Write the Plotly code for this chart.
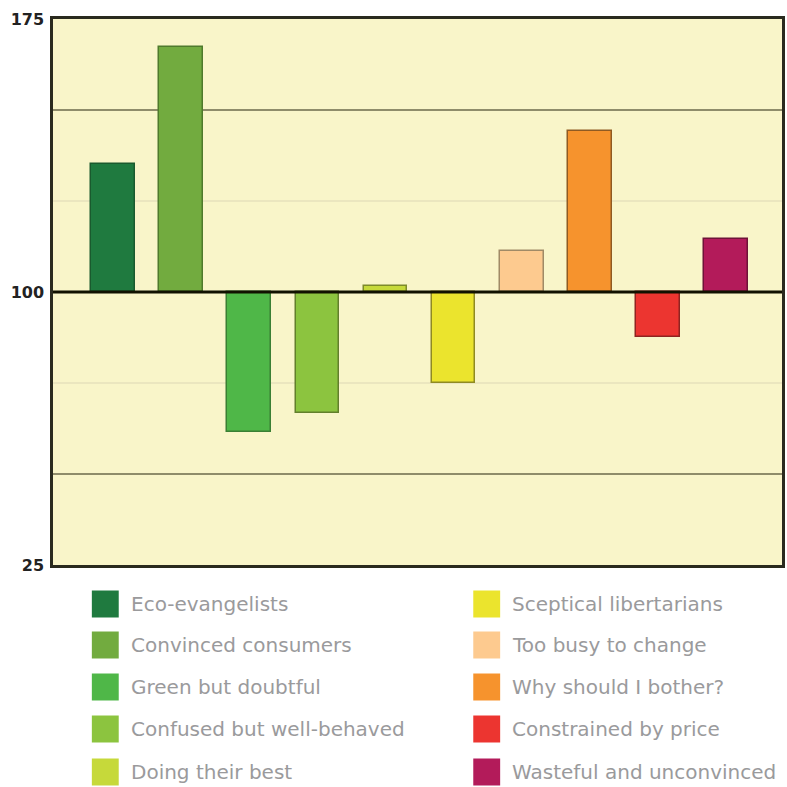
import plotly.graph_objects as go

segments = ["Eco-evangelists", "Convinced consumers", "Green but doubtful",
            "Confused but well-behaved", "Doing their best", "Sceptical libertarians",
            "Too busy to change", "Why should I bother?", "Constrained by price",
            "Wasteful and unconvinced"]
index_values = [135.2, 167.4, 61.5, 66.8, 101.6, 75.1, 111.4, 144.1, 87.7, 114.5]
baseline = 100
colors = ["#1f7a3f", "#72ab3f", "#4fb748", "#8cc43f", "#c6d93a",
          "#ebe42d", "#fdca8f", "#f6932d", "#ec3530", "#b31b5a"]
edge_colors = ["#1a5a2e", "#4f7a2c", "#3a7f34", "#627f2c", "#7d8a2a",
               "#8f8a22", "#a08a66", "#8f5a22", "#8f2420", "#6f1238"]
tick_vals = [25, 100, 175]
dark_grid = [50, 150]
light_grid = [75, 125]

W, H = 787, 787
L, R, T, B = 53, 785, 19, 565

def px_x(x):
    return (x - L) / (R - L)

def px_y(y):
    return (B - y) / (B - T)

fig = go.Figure()
fig.add_trace(go.Bar(
    x=list(range(len(segments))),
    y=[v - baseline for v in index_values],
    base=baseline,
    width=0.64,
    marker=dict(color=colors, line=dict(color=edge_colors, width=1.5)),
    showlegend=False,
    hoverinfo="skip",
))

shapes = []
for g in dark_grid:
    shapes.append(dict(type="line", xref="paper", yref="y", x0=0, x1=1, y0=g, y1=g,
                       line=dict(color="#8f8c6a", width=2), layer="below"))
for g in light_grid:
    shapes.append(dict(type="line", xref="paper", yref="y", x0=0, x1=1, y0=g, y1=g,
                       line=dict(color="#ebe6bf", width=2), layer="below"))
shapes.append(dict(type="line", xref="paper", yref="y", x0=0, x1=1, y0=baseline, y1=baseline,
                   line=dict(color="#111100", width=3), layer="above"))

annotations = []
col_x = [92, 475]
row_y = [604, 645, 687, 729, 772]
box = 27
for i, (name, c) in enumerate(zip(segments, colors)):
    col, row = divmod(i, 5)
    x0 = col_x[col]
    yc = row_y[row]
    shapes.append(dict(type="rect", xref="paper", yref="paper",
                       x0=px_x(x0), x1=px_x(x0 + box),
                       y0=px_y(yc + box / 2), y1=px_y(yc - box / 2),
                       fillcolor=c, line=dict(width=0)))
    annotations.append(dict(xref="paper", yref="paper", x=px_x(x0 + box + 10), y=px_y(yc),
                            text=name, showarrow=False, xanchor="left", yanchor="middle",
                            font=dict(family="DejaVu Sans, Verdana, sans-serif", size=20,
                                      color="#9a9a9c")))

fig.update_layout(
    width=W, height=H,
    margin=dict(l=L, r=W - R, t=T, b=H - B),
    paper_bgcolor="white",
    plot_bgcolor="#f9f5c9",
    shapes=shapes,
    annotations=annotations,
    bargap=0,
    xaxis=dict(range=[-0.88, 9.82], showticklabels=False, showgrid=False, zeroline=False,
               showline=True, mirror=True, linecolor="#2a2a1e", linewidth=2.5, ticks=""),
    yaxis=dict(range=[25, 175], tickvals=tick_vals, showgrid=False, zeroline=False,
               showline=True, mirror=True, linecolor="#2a2a1e", linewidth=2.5, ticks="",
               ticklabelstandoff=3,
               tickfont=dict(family="DejaVu Sans, Arial, sans-serif", size=16,
                             color="#222222", weight="bold")),
)

fig.write_html("out.html")
